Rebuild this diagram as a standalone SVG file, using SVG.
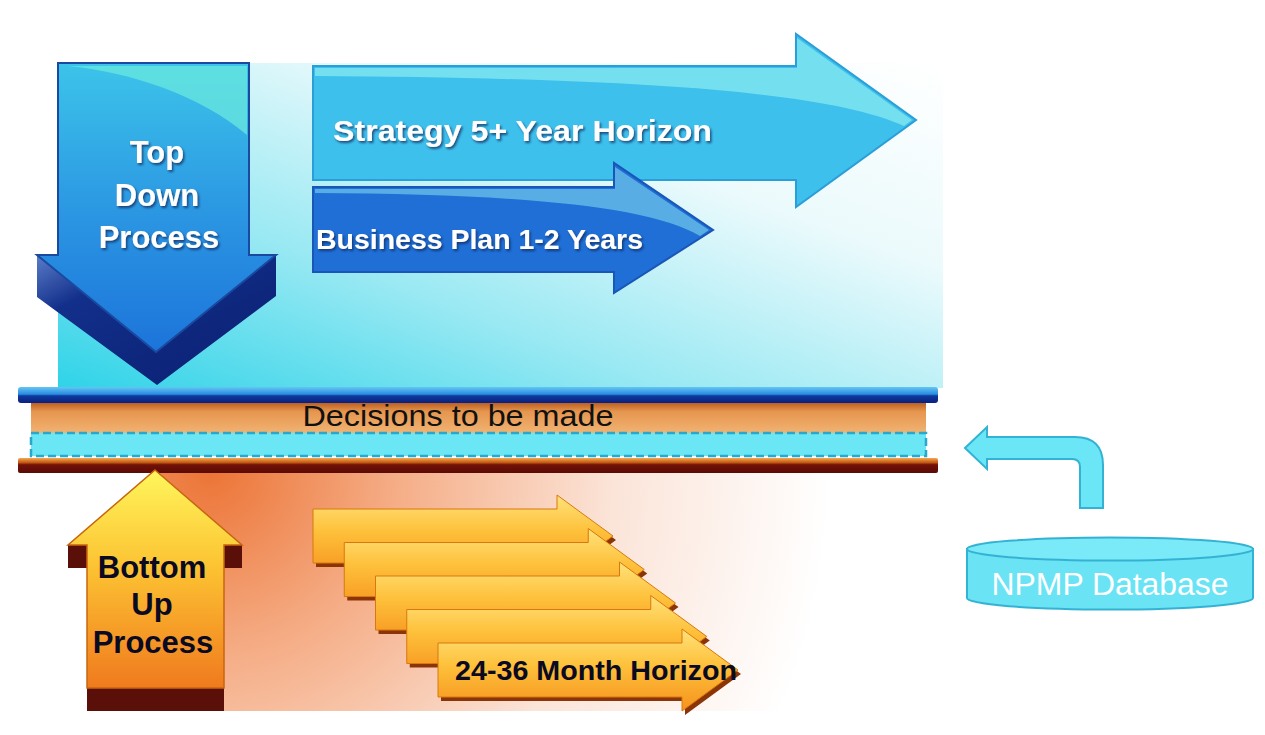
<svg xmlns="http://www.w3.org/2000/svg" xmlns:xlink="http://www.w3.org/1999/xlink" width="1265" height="735" viewBox="0 0 1265 735">
  <style>
    .wt { font-family: "Liberation Sans", Arial, sans-serif; font-weight: bold; fill: #ffffff; }
    .bt { font-family: "Liberation Sans", Arial, sans-serif; font-weight: bold; fill: #0a0a22; }
    .nt { font-family: "Liberation Sans", Arial, sans-serif; }
  </style>
  <defs>
    <linearGradient id="gTopPanel" x1="0" y1="1" x2="1" y2="0">
      <stop offset="0" stop-color="#2fd3e8"/>
      <stop offset="0.35" stop-color="#9ae9f3"/>
      <stop offset="0.68" stop-color="#ebfafc"/>
      <stop offset="1" stop-color="#ffffff"/>
    </linearGradient>
    <radialGradient id="gBotPanel" gradientUnits="userSpaceOnUse" cx="210" cy="470" r="620">
      <stop offset="0" stop-color="#ec7436"/>
      <stop offset="0.3" stop-color="#f5ad86"/>
      <stop offset="0.65" stop-color="#fbe4d8"/>
      <stop offset="1" stop-color="#ffffff"/>
    </radialGradient>
    <linearGradient id="gTD" x1="0" y1="0" x2="0" y2="1">
      <stop offset="0" stop-color="#3cc4ea"/>
      <stop offset="0.55" stop-color="#2a94e2"/>
      <stop offset="1" stop-color="#1c74da"/>
    </linearGradient>
    <linearGradient id="gTDx" x1="0" y1="0" x2="1" y2="1">
      <stop offset="0" stop-color="#5a7cc8"/>
      <stop offset="0.25" stop-color="#122f8a"/>
      <stop offset="1" stop-color="#0a1f70"/>
    </linearGradient>
    <linearGradient id="gBlueBar" x1="0" y1="0" x2="0" y2="1">
      <stop offset="0" stop-color="#64c6f2"/>
      <stop offset="0.45" stop-color="#2a8ce2"/>
      <stop offset="0.55" stop-color="#0e3a9c"/>
      <stop offset="1" stop-color="#0a2080"/>
    </linearGradient>
    <linearGradient id="gOrangeBand" x1="0" y1="0" x2="0" y2="1">
      <stop offset="0" stop-color="#b85a1c"/>
      <stop offset="0.3" stop-color="#e6964f"/>
      <stop offset="1" stop-color="#f2b474"/>
    </linearGradient>
    <linearGradient id="gBrownBar" x1="0" y1="0" x2="0" y2="1">
      <stop offset="0" stop-color="#f4a850"/>
      <stop offset="0.3" stop-color="#c45a14"/>
      <stop offset="0.45" stop-color="#721208"/>
      <stop offset="1" stop-color="#5a0a04"/>
    </linearGradient>
    <linearGradient id="gBU" x1="0" y1="0" x2="0" y2="1">
      <stop offset="0" stop-color="#fff65c"/>
      <stop offset="0.45" stop-color="#fcc232"/>
      <stop offset="1" stop-color="#f07a1e"/>
    </linearGradient>
    <linearGradient id="gOA" x1="0" y1="0" x2="0" y2="1">
      <stop offset="0" stop-color="#ffe27a"/>
      <stop offset="0.45" stop-color="#fec03a"/>
      <stop offset="1" stop-color="#f5921e"/>
    </linearGradient>
    <filter id="sh" x="-10%" y="-20%" width="130%" height="150%">
      <feDropShadow dx="1.5" dy="2" stdDeviation="1" flood-color="#0d2a5c" flood-opacity="0.75"/>
    </filter>
    <path id="oArrow" d="M0,0 L244,0 L244,-14 L300,27 L244,68 L244,54 L0,54 Z"/>
    <g id="oArrowFull">
      <use xlink:href="#oArrow" transform="translate(3,4)" fill="#8a3408"/>
      <use xlink:href="#oArrow" fill="url(#gOA)" stroke="#d8780e" stroke-width="1"/>
    </g>
  </defs>

  <rect width="1265" height="735" fill="#ffffff"/>

  <!-- background panels -->
  <g id="panels">
    <rect x="58" y="63" width="885" height="325" fill="url(#gTopPanel)"/>
    <rect x="150" y="473" width="793" height="238" fill="url(#gBotPanel)"/>
  </g>

  <!-- decision bars -->
  <g id="decisions">
    <rect x="31" y="402" width="895" height="32" fill="url(#gOrangeBand)"/>
    <rect x="31" y="433" width="895" height="23" fill="#6ae6f4" stroke="#2aa8cc" stroke-width="2.5" stroke-dasharray="8 4"/>
    <rect x="18" y="387" width="920" height="16" rx="3" fill="url(#gBlueBar)"/>
    <rect x="18" y="458" width="920" height="15" rx="2" fill="url(#gBrownBar)"/>
    <text class="nt" x="458" y="426" font-size="30" text-anchor="middle" fill="#111" textLength="311" lengthAdjust="spacingAndGlyphs">Decisions to be made</text>
  </g>

  <!-- Top down arrow -->
  <g id="topdown">
    <path d="M37,255 L156,352 L276,255 L276,296 L157,385 L37,297 Z" fill="url(#gTDx)"/>
    <path d="M58,63 L249,63 L249,255 L276,255 L156,352 L37,255 L58,255 Z" fill="url(#gTD)" stroke="#1a4aa0" stroke-width="2"/>
    <path d="M68,66 L247,66 L247,135 C 200,95 130,72 68,66 Z" fill="#6ae8de" opacity="0.75"/>
    <g filter="url(#sh)">
      <text class="wt" x="157" y="163" font-size="31" text-anchor="middle">Top</text>
      <text class="wt" x="157" y="206" font-size="31" text-anchor="middle">Down</text>
      <text class="wt" x="159" y="248" font-size="31" text-anchor="middle">Process</text>
    </g>
  </g>

  <!-- Strategy arrow -->
  <g id="strategy">
    <path d="M313,66 L796,66 L796,34 L916,120 L796,207 L796,180 L313,180 Z" fill="#3ec0ec" stroke="#2a9ed8" stroke-width="2"/>
    <path d="M315,68 L797,68 L797,38 L912,120 L904,126 C 830,92 640,78 315,76 Z" fill="#86eaf0" opacity="0.75"/>
    <text class="wt" x="333" y="141" font-size="29" filter="url(#sh)" textLength="379" lengthAdjust="spacingAndGlyphs">Strategy 5+ Year Horizon</text>
  </g>

  <!-- Business plan arrow -->
  <g id="business">
    <path d="M313,187 L614,187 L614,163 L713,230 L614,293 L614,272 L313,272 Z" fill="#1f6fd6" stroke="#1a55b8" stroke-width="2"/>
    <path d="M315,189 L615,189 L615,167 L709,230 L700,236 C 650,206 520,194 315,193 Z" fill="#62b8e6" opacity="0.85"/>
    <text class="wt" x="316" y="249" font-size="28" filter="url(#sh)" textLength="327" lengthAdjust="spacingAndGlyphs">Business Plan 1-2 Years</text>
  </g>

  <!-- Bottom up arrow -->
  <g id="bottomup">
    <rect x="68" y="545" width="19" height="23" fill="#5a1008"/>
    <rect x="224" y="545" width="18" height="23" fill="#5a1008"/>
    <rect x="87" y="687" width="137" height="24" fill="#5a1008"/>
    <path d="M155,470 L242,545 L224,545 L224,688 L87,688 L87,545 L68,545 Z" fill="url(#gBU)" stroke="#c8650f" stroke-width="1.5"/>
    <text class="bt" x="152" y="578" font-size="31" text-anchor="middle">Bottom</text>
    <text class="bt" x="152" y="615" font-size="31" text-anchor="middle">Up</text>
    <text class="bt" x="153" y="653" font-size="31" text-anchor="middle">Process</text>
  </g>

  <!-- 24-36 month stacked arrows -->
  <g id="monthArrows">
    <use xlink:href="#oArrowFull" transform="translate(313,509)"/>
    <use xlink:href="#oArrowFull" transform="translate(344.25,542.5)"/>
    <use xlink:href="#oArrowFull" transform="translate(375.5,576)"/>
    <use xlink:href="#oArrowFull" transform="translate(406.75,609.5)"/>
    <use xlink:href="#oArrowFull" transform="translate(438,643)"/>
    <text class="bt" x="455" y="680" font-size="28" textLength="282" lengthAdjust="spacingAndGlyphs">24-36 Month Horizon</text>
  </g>

  <!-- NPMP database -->
  <g id="npmp">
    <path d="M967,549 L967,598 A143,11.5 0 0 0 1253,598 L1253,549 Z" fill="#6ae4f5" stroke="#34b2d4" stroke-width="2"/>
    <ellipse cx="1110" cy="549" rx="143" ry="11.5" fill="#7ae9f8" stroke="#34b2d4" stroke-width="2"/>
    <text class="nt" x="1110" y="595" font-size="31" text-anchor="middle" fill="#ffffff" textLength="237" lengthAdjust="spacingAndGlyphs">NPMP Database</text>
  </g>

  <!-- connector -->
  <g id="connectors">
    <path d="M965,448 L987,427 L987,437 L1075,437 Q1103,437 1103,465 L1103,508 L1080,508 L1080,467 Q1080,459 1072,459 L987,459 L987,469 Z" fill="#6ae6f6" stroke="#34b2d4" stroke-width="2"/>
  </g>
</svg>
